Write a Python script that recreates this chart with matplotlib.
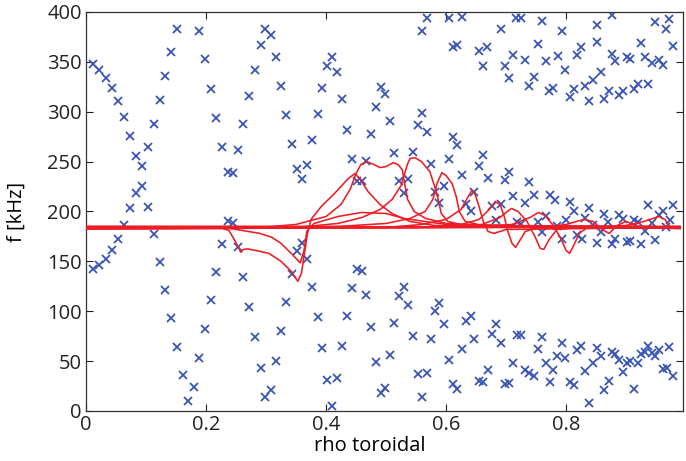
import numpy as np
import matplotlib
matplotlib.use("Agg")
import matplotlib.pyplot as plt

# scatter points (rho, f)
rho_pts = [
    0.151, 0.189, 0.1415, 0.199, 0.012, 0.022, 0.033, 0.132, 0.043, 0.208, 0.053, 0.123, 0.063, 0.217,
    0.113, 0.262, 0.073, 0.103, 0.227, 0.254, 0.083, 0.093, 0.236, 0.245, 0.093, 0.083, 0.073, 0.103,
    0.0635, 0.236, 0.245, 0.053, 0.113, 0.227, 0.254, 0.043, 0.033, 0.022, 0.012, 0.123, 0.217, 0.262,
    0.132, 0.208, 0.1415, 0.199, 0.151, 0.189, 0.161, 0.1795, 0.170,
    0.299, 0.309, 0.291, 0.317, 0.410, 0.402, 0.419, 0.281, 0.325, 0.394, 0.491, 0.499, 0.272, 0.427,
    0.483, 0.334, 0.386, 0.506, 0.435, 0.475, 0.343, 0.377, 0.514, 0.443, 0.467, 0.352, 0.369, 0.360,
    0.452, 0.4595, 0.522, 0.530,
    0.360, 0.352, 0.369, 0.343, 0.452, 0.4595, 0.377, 0.443, 0.467, 0.521, 0.272, 0.334, 0.386, 0.435,
    0.475, 0.514, 0.281, 0.325, 0.394, 0.427, 0.506, 0.483, 0.291, 0.317, 0.402, 0.419, 0.299, 0.309,
    0.491, 0.499, 0.410,
    0.568, 0.605, 0.627, 0.560, 0.717, 0.725, 0.760, 0.691, 0.612, 0.619, 0.655, 0.669, 0.753, 0.712,
    0.732, 0.766, 0.662, 0.698, 0.705, 0.746, 0.739, 0.560, 0.553, 0.568, 0.612, 0.619, 0.545, 0.662,
    0.605, 0.575, 0.655, 0.705, 0.627, 0.670, 0.698, 0.739, 0.537, 0.597, 0.647, 0.582, 0.712, 0.746,
    0.589, 0.634, 0.732, 0.677, 0.691,
    0.641, 0.683, 0.718, 0.725, 0.753, 0.766, 0.760, 0.530, 0.537, 0.582, 0.589, 0.597, 0.634, 0.641,
    0.683, 0.545, 0.575, 0.647, 0.676, 0.691, 0.718, 0.725, 0.760, 0.753, 0.627, 0.605, 0.712, 0.766,
    0.670, 0.732, 0.739, 0.746, 0.553, 0.568, 0.655, 0.662, 0.698, 0.705, 0.612, 0.619, 0.560,
    0.876, 0.851, 0.793, 0.949, 0.972, 0.966, 0.825, 0.819, 0.851, 0.925, 0.978, 0.786, 0.876, 0.882,
    0.901, 0.907, 0.931, 0.943, 0.955, 0.961, 0.799, 0.858, 0.845, 0.832, 0.813, 0.807, 0.772, 0.779,
    0.839, 0.863, 0.871, 0.888, 0.895, 0.913, 0.920, 0.937, 0.774, 0.781, 0.807, 0.839, 0.937, 0.978,
    0.813, 0.800, 0.832, 0.863, 0.888, 0.961, 0.955, 0.973, 0.785, 0.845, 0.870, 0.895, 0.913, 0.920,
    0.943, 0.966, 0.793, 0.819, 0.826, 0.858, 0.851, 0.876, 0.882, 0.901, 0.907, 0.925, 0.931, 0.949,
    0.779, 0.785, 0.799, 0.793, 0.819, 0.825, 0.774, 0.807, 0.813, 0.832, 0.845, 0.851, 0.858, 0.839,
    0.863, 0.871, 0.876, 0.882, 0.888, 0.895, 0.901, 0.907, 0.913, 0.920, 0.925, 0.931, 0.937, 0.943,
    0.949, 0.955, 0.961, 0.968, 0.972, 0.978,
]
f_pts = [
    383, 381, 360, 353, 348, 342, 334, 336, 324, 323, 311, 312, 295, 294,
    288, 288, 276, 265, 265, 262, 256, 246, 240, 239, 226, 219, 203, 204,
    186, 190, 188, 172, 177, 167, 164, 161, 152, 146, 142, 149, 139, 134,
    121, 111, 93, 82, 64, 53, 36, 24, 10,
    383, 377, 367, 355, 355, 346, 340, 342, 326, 324, 325, 318, 316, 313,
    305, 297, 298, 291, 282, 278, 268, 272, 259, 253, 251, 243, 247, 233,
    231, 231, 231, 219,
    168, 160, 152, 137, 142, 140, 124, 123, 116, 115, 104, 109, 94, 95,
    84, 88, 74, 80, 63, 65, 56, 49, 43, 50, 31, 33, 14, 21,
    18, 23, 5,
    394, 394, 395, 381, 394, 394, 391, 383, 365, 367, 361, 365, 368, 357,
    352, 351, 346, 346, 334, 335, 326, 299, 287, 280, 275, 267, 260, 257,
    253, 248, 246, 240, 237, 234, 232, 230, 233, 226, 220, 220, 216, 217,
    209, 208, 209, 205, 208,
    200, 191, 189, 187, 189, 195, 179, 124, 106, 100, 108, 87, 90, 95,
    87, 75, 72, 72, 77, 68, 76, 76, 74, 62, 62, 51, 48, 48,
    41, 41, 38, 35, 37, 38, 30, 29, 27, 28, 27, 22, 14,
    397, 387, 381, 390, 393, 383, 365, 357, 370, 369, 366, 356, 358, 351,
    355, 353, 355, 349, 352, 347, 342, 340, 332, 326, 323, 315, 321, 324,
    311, 313, 321, 317, 321, 323, 328, 328, 217, 212, 210, 203, 207, 207,
    200, 191, 193, 197, 196, 200, 196, 191, 185, 186, 189, 192, 191, 189,
    188, 184, 172, 176, 172, 179, 168, 167, 172, 169, 170, 167, 180, 171,
    41, 55, 53, 68, 61, 65, 29, 29, 26, 40, 48, 63, 55, 8,
    21, 30, 59, 57, 51, 39, 48, 50, 22, 48, 57, 59, 65, 58,
    55, 61, 42, 43, 64, 35,
]

# red curves, vertices
c1_rho = [0, 0.225, 0.238, 0.247, 0.253, 0.258, 0.262, 0.27, 0.29, 0.305, 0.325, 0.342, 0.353, 0.359,
          0.364, 0.369, 0.375, 0.392, 0.414, 0.437, 0.448, 0.456, 0.47, 0.49, 0.51, 0.54, 0.58, 0.7, 0.99]
c1_f = [183.5, 183.5, 181, 172, 165, 159, 162, 162.5, 160, 158, 150, 140, 130, 138,
        158, 178, 192, 205, 218, 233, 238, 233, 220, 207, 198, 190, 186, 184.5, 184]

c2_rho = [0, 0.24, 0.26, 0.29, 0.31, 0.325, 0.342, 0.357, 0.363, 0.368, 0.38, 0.42, 0.459, 0.5, 0.53, 0.6, 0.99]
c2_f = [182.5, 183, 181, 178, 174, 168, 158, 148.5, 160, 180, 188, 195, 199, 198, 193, 187, 183]

c3_rho = [0, 0.30, 0.35, 0.40, 0.425, 0.44, 0.45, 0.458, 0.468, 0.48, 0.49, 0.5, 0.512, 0.52, 0.527,
          0.531, 0.536, 0.547, 0.566, 0.6, 0.7, 0.99]
c3_f = [184.5, 184.5, 187, 195, 207, 222, 238, 247, 250, 247, 244, 245, 249, 247, 242,
        228, 212, 200, 193, 188, 185.5, 184.5]

c4_rho = [0, 0.35, 0.42, 0.46, 0.49, 0.51, 0.525, 0.532, 0.536, 0.54, 0.548, 0.559, 0.573, 0.581,
          0.587, 0.592, 0.603, 0.63, 0.99]
c4_f = [183, 184, 188, 194, 202, 212, 226, 240, 248, 253, 254, 250, 240, 225,
        212, 198, 190, 186, 183]

c5_rho = [0, 0.42, 0.5, 0.54, 0.565, 0.578, 0.585, 0.593, 0.6, 0.61, 0.617, 0.622, 0.632, 0.66, 0.99]
c5_f = [185, 185, 188, 193, 200, 212, 228, 239, 236, 228, 215, 200, 190, 186, 185]

c6_rho = [0, 0.5, 0.56, 0.6, 0.625, 0.637, 0.643, 0.648, 0.655, 0.662, 0.67, 0.68, 0.7, 0.99]
c6_f = [184, 184, 187, 192, 202, 215, 221, 218, 205, 190, 180, 178, 182, 184]

c7_rho = [0, 0.55, 0.62, 0.655, 0.672, 0.682, 0.69, 0.697, 0.703, 0.71, 0.716, 0.722, 0.732, 0.75, 0.99]
c7_f = [183.5, 184, 186, 192, 202, 210, 207, 195, 180, 168, 164, 170, 180, 183.5, 183.5]

c8_rho = [0, 0.6, 0.66, 0.69, 0.702, 0.709, 0.72, 0.735, 0.748, 0.757, 0.763, 0.772, 0.785, 0.82, 0.99]
c8_f = [182.5, 184, 187, 194, 200, 203, 200, 190, 175, 163, 162, 172, 182, 184, 184.5]

c9_rho = [0, 0.65, 0.71, 0.74, 0.754, 0.765, 0.78, 0.792, 0.8, 0.806, 0.812, 0.822, 0.84, 0.86, 0.99]
c9_f = [184.5, 184.5, 187, 194, 199, 196, 185, 172, 161, 158, 165, 178, 186, 184.5, 183.5]

c10_rho = [0, 0.76, 0.8, 0.83, 0.845, 0.86, 0.872, 0.885, 0.9, 0.92, 0.99]
c10_f = [183, 184, 187, 192, 190, 182, 178, 186, 190, 185, 184]

c11_rho = [0, 0.85, 0.9, 0.93, 0.955, 0.965, 0.972, 0.99]
c11_f = [185, 184.5, 186, 190, 195, 192, 185, 185]

curves = [(c1_rho, c1_f), (c2_rho, c2_f), (c3_rho, c3_f), (c4_rho, c4_f), (c5_rho, c5_f),
          (c6_rho, c6_f), (c7_rho, c7_f), (c8_rho, c8_f), (c9_rho, c9_f), (c10_rho, c10_f),
          (c11_rho, c11_f)]

x_ticks = [0, 0.2, 0.4, 0.6, 0.8]
x_labels = ["0", "0.2", "0.4", "0.6", "0.8"]
y_ticks = [0, 50, 100, 150, 200, 250, 300, 350, 400]

plt.rcParams['font.family'] = ['Open Sans', 'DejaVu Sans']

fig = plt.figure(figsize=(6.86, 4.61), dpi=100)
ax = fig.add_axes([0.1254, 0.1085, 0.8703, 0.8655])

ax.plot(rho_pts, f_pts, 'x', color='#3a55b4', markersize=5.5, markeredgewidth=1.3, zorder=2)
for r, f in curves:
    ax.plot(r, f, '-', color='#ee1c24', linewidth=1.15, zorder=3)

ax.set_xlim(0, 0.995)
ax.set_ylim(0, 400)
ax.set_xticks(x_ticks)
ax.set_xticklabels(x_labels)
ax.set_yticks(y_ticks)
ax.tick_params(direction='in', top=True, right=True, length=5, width=0.8,
               labelsize=14.5, pad=3, colors='#222222')
for s in ax.spines.values():
    s.set_linewidth(0.9)
    s.set_color('#333333')

ax.set_xlabel("rho toroidal", fontsize=14.5)
ax.set_ylabel("f [kHz]", fontsize=14.5)
ax.xaxis.set_label_coords(0.475, -0.062)
ax.yaxis.set_label_coords(-0.1, 0.5)

plt.savefig("out.png", dpi=100)
